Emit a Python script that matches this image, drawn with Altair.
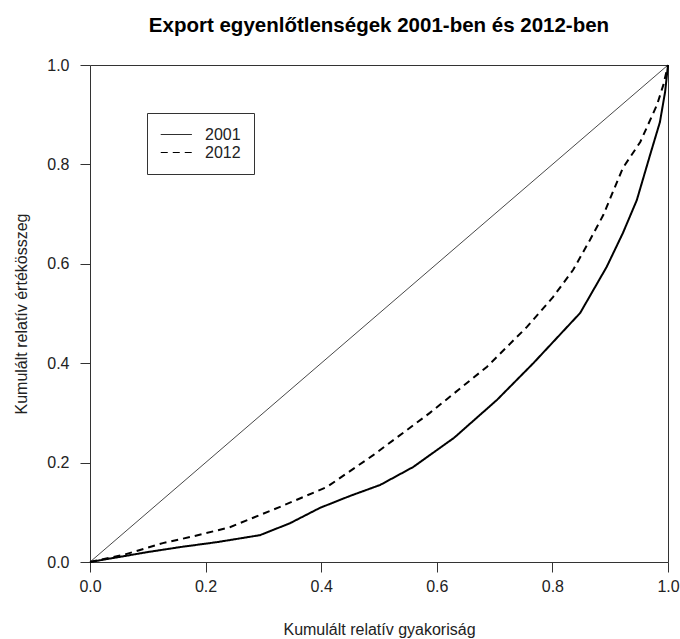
import altair as alt
import pandas as pd

x_2001 = [0, 0.04, 0.10, 0.156, 0.22, 0.294, 0.346, 0.398, 0.45, 0.502, 0.559, 0.63,
          0.704, 0.767, 0.848, 0.894, 0.922, 0.946, 0.969, 0.986, 0.995, 1.0]
y_2001 = [0, 0.008, 0.02, 0.03, 0.04, 0.054, 0.078, 0.109, 0.133, 0.155, 0.191, 0.25,
          0.326, 0.400, 0.501, 0.594, 0.662, 0.728, 0.819, 0.885, 0.946, 1.0]

x_2012 = [0, 0.057, 0.126, 0.18, 0.242, 0.329, 0.41, 0.49, 0.588, 0.687, 0.756, 0.801,
          0.836, 0.865, 0.888, 0.922, 0.952, 0.981, 0.992, 1.0]
y_2012 = [0, 0.014, 0.038, 0.052, 0.07, 0.111, 0.151, 0.215, 0.30, 0.393, 0.473, 0.533,
          0.588, 0.648, 0.698, 0.793, 0.845, 0.92, 0.96, 1.0]

diag_x = [0, 1]
diag_y = [0, 1]

series = ["2001", "2012"]
ticks = [0, 0.2, 0.4, 0.6, 0.8, 1.0]

rows = []
for i, (xv, yv) in enumerate(zip(x_2001, y_2001)):
    rows.append({"x": xv, "y": yv, "ev": "2001", "o": i})
for i, (xv, yv) in enumerate(zip(x_2012, y_2012)):
    rows.append({"x": xv, "y": yv, "ev": "2012", "o": i})
df = pd.DataFrame(rows)
diag = pd.DataFrame({"x": diag_x, "y": diag_y})

FONT = "Liberation Sans"
FS = 16

xs = alt.Scale(domain=[0, 1], nice=False, zero=False)
ys = alt.Scale(domain=[0, 1], nice=False, zero=False)

x_axis = alt.Axis(values=ticks, format=".1f", title="Kumulált relatív gyakoriság",
                  grid=False, domain=False, tickSize=10, tickColor="#333",
                  labelFlush=False, labelOverlap=False,
                  labelPadding=6, titlePadding=27, labelFontSize=FS, titleFontSize=FS,
                  titleFontWeight="normal", labelColor="#222", titleColor="#222",
                  labelFont=FONT, titleFont=FONT)
y_axis = alt.Axis(values=ticks, format=".1f", title="Kumulált relatív értékösszeg",
                  grid=False, domain=False, tickSize=10, tickColor="#333",
                  labelFlush=False, labelOverlap=False,
                  labelPadding=11, titlePadding=17, labelFontSize=FS, titleFontSize=FS,
                  titleFontWeight="normal", labelColor="#222", titleColor="#222",
                  labelFont=FONT, titleFont=FONT)

diag_layer = alt.Chart(diag).mark_line(color="#333", strokeWidth=0.9).encode(
    x=alt.X("x:Q", scale=xs, axis=x_axis),
    y=alt.Y("y:Q", scale=ys, axis=y_axis),
)

curves = alt.Chart(df).mark_line(color="black", strokeWidth=2).encode(
    x=alt.X("x:Q", scale=xs),
    y=alt.Y("y:Q", scale=ys),
    order="o:Q",
    strokeDash=alt.StrokeDash(
        "ev:N",
        scale=alt.Scale(domain=series, range=[[1, 0], [7, 5]]),
        legend=alt.Legend(
            title=None, orient="none", legendX=57, legendY=48,
            symbolType="M-1,0H3", symbolSize=240, symbolStrokeWidth=1,
            symbolStrokeColor="black", symbolFillColor="transparent",
            labelFontSize=FS, labelFont=FONT,
            labelColor="#222", labelOffset=28, rowPadding=1, padding=13,
            strokeColor="#333", fillColor="white",
        ),
    ),
)

chart = alt.layer(diag_layer, curves).properties(
    width=578, height=497,
    padding={"left": 90, "top": 65, "right": 12, "bottom": 77},
    autosize=alt.AutoSizeParams(type="none"),
    background="white",
    title=alt.TitleParams("Export egyenlőtlenségek 2001-ben és 2012-ben",
                          fontSize=20.5, fontWeight="bold", font=FONT,
                          anchor="middle", offset=21, color="black"),
).configure_view(stroke="#333", strokeWidth=1)

chart.save("out.html", embed_options={"renderer": "svg", "actions": False})
